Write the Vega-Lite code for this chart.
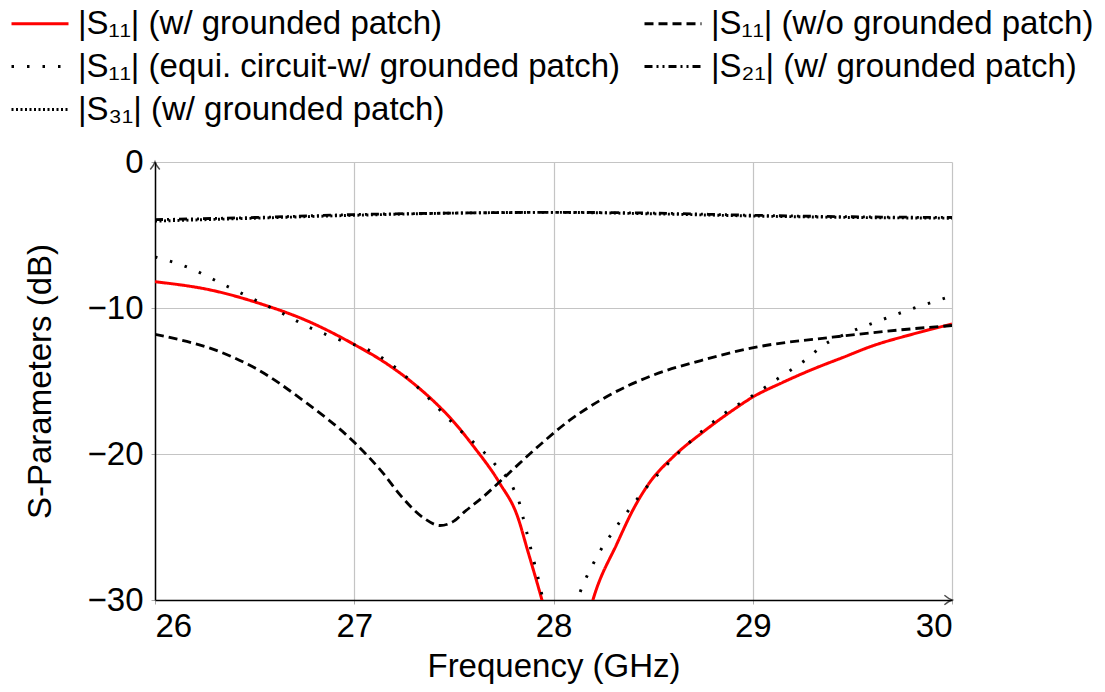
{
  "$schema": "https://vega.github.io/schema/vega-lite/v6.json",
  "width": 797,
  "height": 438,
  "autosize": {"type": "none"},
  "padding": {"left": 155, "top": 162, "right": 153, "bottom": 92},
  "background": "white",
  "config": {
    "font": "Liberation Sans",
    "view": {"stroke": null},
    "axis": {
      "labelFont": "Liberation Sans",
      "titleFont": "Liberation Sans",
      "labelFontSize": 33,
      "titleFontSize": 33,
      "titleFontWeight": "normal",
      "labelColor": "black",
      "titleColor": "black",
      "gridColor": "#c4c4c4",
      "gridWidth": 1.2,
      "gridOpacity": 1,
      "tickColor": "#aaaaaa",
      "tickSize": 4,
      "domainColor": "black",
      "domainWidth": 1.5
    },
    "legend": {
      "labelFont": "Liberation Sans",
      "labelFontSize": 33,
      "labelColor": "black",
      "labelLimit": 0
    }
  },
  "datasets": {
    "curves": [
      {"series": "|S₁₁| (w/ grounded patch)", "f": 26.0, "db": -8.2},
      {"series": "|S₁₁| (w/ grounded patch)", "f": 26.29, "db": -8.8},
      {"series": "|S₁₁| (w/ grounded patch)", "f": 26.55, "db": -9.8},
      {"series": "|S₁₁| (w/ grounded patch)", "f": 26.75, "db": -10.8},
      {"series": "|S₁₁| (w/ grounded patch)", "f": 27.0, "db": -12.5},
      {"series": "|S₁₁| (w/ grounded patch)", "f": 27.15, "db": -13.7},
      {"series": "|S₁₁| (w/ grounded patch)", "f": 27.3, "db": -15.2},
      {"series": "|S₁₁| (w/ grounded patch)", "f": 27.4, "db": -16.4},
      {"series": "|S₁₁| (w/ grounded patch)", "f": 27.48, "db": -17.5},
      {"series": "|S₁₁| (w/ grounded patch)", "f": 27.6, "db": -19.5},
      {"series": "|S₁₁| (w/ grounded patch)", "f": 27.73, "db": -22.0},
      {"series": "|S₁₁| (w/ grounded patch)", "f": 27.82, "db": -24.3},
      {"series": "|S₁₁| (w/ grounded patch)", "f": 27.87, "db": -26.6},
      {"series": "|S₁₁| (w/ grounded patch)", "f": 27.94, "db": -29.9},
      {"series": "|S₁₁| (w/ grounded patch)", "f": 28.0, "db": -33.0},
      {"series": "|S₁₁| (w/ grounded patch)", "f": 28.06, "db": -35.0},
      {"series": "|S₁₁| (w/ grounded patch)", "f": 28.14, "db": -33.0},
      {"series": "|S₁₁| (w/ grounded patch)", "f": 28.2, "db": -29.9},
      {"series": "|S₁₁| (w/ grounded patch)", "f": 28.32, "db": -26.1},
      {"series": "|S₁₁| (w/ grounded patch)", "f": 28.4, "db": -23.8},
      {"series": "|S₁₁| (w/ grounded patch)", "f": 28.48, "db": -22.0},
      {"series": "|S₁₁| (w/ grounded patch)", "f": 28.6, "db": -20.2},
      {"series": "|S₁₁| (w/ grounded patch)", "f": 28.75, "db": -18.5},
      {"series": "|S₁₁| (w/ grounded patch)", "f": 28.9, "db": -17.0},
      {"series": "|S₁₁| (w/ grounded patch)", "f": 29.0, "db": -16.1},
      {"series": "|S₁₁| (w/ grounded patch)", "f": 29.15, "db": -15.1},
      {"series": "|S₁₁| (w/ grounded patch)", "f": 29.3, "db": -14.2},
      {"series": "|S₁₁| (w/ grounded patch)", "f": 29.45, "db": -13.4},
      {"series": "|S₁₁| (w/ grounded patch)", "f": 29.6, "db": -12.6},
      {"series": "|S₁₁| (w/ grounded patch)", "f": 29.8, "db": -11.8},
      {"series": "|S₁₁| (w/ grounded patch)", "f": 30.0, "db": -11.1},

      {"series": "|S₁₁| (w/o grounded patch)", "f": 26.0, "db": -11.8},
      {"series": "|S₁₁| (w/o grounded patch)", "f": 26.38, "db": -13.3},
      {"series": "|S₁₁| (w/o grounded patch)", "f": 26.5, "db": -14.1},
      {"series": "|S₁₁| (w/o grounded patch)", "f": 26.75, "db": -16.4},
      {"series": "|S₁₁| (w/o grounded patch)", "f": 27.0, "db": -19.2},
      {"series": "|S₁₁| (w/o grounded patch)", "f": 27.15, "db": -21.4},
      {"series": "|S₁₁| (w/o grounded patch)", "f": 27.23, "db": -22.8},
      {"series": "|S₁₁| (w/o grounded patch)", "f": 27.35, "db": -24.4},
      {"series": "|S₁₁| (w/o grounded patch)", "f": 27.43, "db": -24.9},
      {"series": "|S₁₁| (w/o grounded patch)", "f": 27.5, "db": -24.6},
      {"series": "|S₁₁| (w/o grounded patch)", "f": 27.55, "db": -24.0},
      {"series": "|S₁₁| (w/o grounded patch)", "f": 27.65, "db": -22.9},
      {"series": "|S₁₁| (w/o grounded patch)", "f": 27.73, "db": -21.9},
      {"series": "|S₁₁| (w/o grounded patch)", "f": 27.93, "db": -19.4},
      {"series": "|S₁₁| (w/o grounded patch)", "f": 28.08, "db": -17.7},
      {"series": "|S₁₁| (w/o grounded patch)", "f": 28.25, "db": -16.2},
      {"series": "|S₁₁| (w/o grounded patch)", "f": 28.5, "db": -14.6},
      {"series": "|S₁₁| (w/o grounded patch)", "f": 28.74, "db": -13.6},
      {"series": "|S₁₁| (w/o grounded patch)", "f": 29.01, "db": -12.7},
      {"series": "|S₁₁| (w/o grounded patch)", "f": 29.4, "db": -12.0},
      {"series": "|S₁₁| (w/o grounded patch)", "f": 29.74, "db": -11.5},
      {"series": "|S₁₁| (w/o grounded patch)", "f": 30.0, "db": -11.2},

      {"series": "|S₁₁| (equi. circuit-w/ grounded patch)", "f": 26.0, "db": -6.5},
      {"series": "|S₁₁| (equi. circuit-w/ grounded patch)", "f": 26.18, "db": -7.3},
      {"series": "|S₁₁| (equi. circuit-w/ grounded patch)", "f": 26.33, "db": -8.3},
      {"series": "|S₁₁| (equi. circuit-w/ grounded patch)", "f": 26.48, "db": -9.3},
      {"series": "|S₁₁| (equi. circuit-w/ grounded patch)", "f": 26.63, "db": -10.3},
      {"series": "|S₁₁| (equi. circuit-w/ grounded patch)", "f": 26.77, "db": -11.3},
      {"series": "|S₁₁| (equi. circuit-w/ grounded patch)", "f": 26.93, "db": -12.2},
      {"series": "|S₁₁| (equi. circuit-w/ grounded patch)", "f": 27.09, "db": -13.0},
      {"series": "|S₁₁| (equi. circuit-w/ grounded patch)", "f": 27.16, "db": -13.6},
      {"series": "|S₁₁| (equi. circuit-w/ grounded patch)", "f": 27.3, "db": -15.2},
      {"series": "|S₁₁| (equi. circuit-w/ grounded patch)", "f": 27.51, "db": -18.1},
      {"series": "|S₁₁| (equi. circuit-w/ grounded patch)", "f": 27.7, "db": -20.6},
      {"series": "|S₁₁| (equi. circuit-w/ grounded patch)", "f": 27.8, "db": -22.4},
      {"series": "|S₁₁| (equi. circuit-w/ grounded patch)", "f": 27.83, "db": -23.4},
      {"series": "|S₁₁| (equi. circuit-w/ grounded patch)", "f": 27.85, "db": -24.5},
      {"series": "|S₁₁| (equi. circuit-w/ grounded patch)", "f": 27.87, "db": -25.6},
      {"series": "|S₁₁| (equi. circuit-w/ grounded patch)", "f": 27.89, "db": -26.7},
      {"series": "|S₁₁| (equi. circuit-w/ grounded patch)", "f": 27.91, "db": -27.8},
      {"series": "|S₁₁| (equi. circuit-w/ grounded patch)", "f": 27.93, "db": -28.9},
      {"series": "|S₁₁| (equi. circuit-w/ grounded patch)", "f": 27.97, "db": -31.5},
      {"series": "|S₁₁| (equi. circuit-w/ grounded patch)", "f": 28.03, "db": -34.0},
      {"series": "|S₁₁| (equi. circuit-w/ grounded patch)", "f": 28.09, "db": -31.5},
      {"series": "|S₁₁| (equi. circuit-w/ grounded patch)", "f": 28.13, "db": -29.6},
      {"series": "|S₁₁| (equi. circuit-w/ grounded patch)", "f": 28.16, "db": -28.6},
      {"series": "|S₁₁| (equi. circuit-w/ grounded patch)", "f": 28.2, "db": -27.5},
      {"series": "|S₁₁| (equi. circuit-w/ grounded patch)", "f": 28.24, "db": -26.5},
      {"series": "|S₁₁| (equi. circuit-w/ grounded patch)", "f": 28.29, "db": -25.5},
      {"series": "|S₁₁| (equi. circuit-w/ grounded patch)", "f": 28.33, "db": -24.7},
      {"series": "|S₁₁| (equi. circuit-w/ grounded patch)", "f": 28.38, "db": -23.8},
      {"series": "|S₁₁| (equi. circuit-w/ grounded patch)", "f": 28.43, "db": -22.9},
      {"series": "|S₁₁| (equi. circuit-w/ grounded patch)", "f": 28.6, "db": -20.3},
      {"series": "|S₁₁| (equi. circuit-w/ grounded patch)", "f": 28.85, "db": -17.3},
      {"series": "|S₁₁| (equi. circuit-w/ grounded patch)", "f": 29.0, "db": -16.0},
      {"series": "|S₁₁| (equi. circuit-w/ grounded patch)", "f": 29.13, "db": -14.8},
      {"series": "|S₁₁| (equi. circuit-w/ grounded patch)", "f": 29.27, "db": -13.5},
      {"series": "|S₁₁| (equi. circuit-w/ grounded patch)", "f": 29.35, "db": -12.6},
      {"series": "|S₁₁| (equi. circuit-w/ grounded patch)", "f": 29.48, "db": -11.7},
      {"series": "|S₁₁| (equi. circuit-w/ grounded patch)", "f": 29.63, "db": -10.9},
      {"series": "|S₁₁| (equi. circuit-w/ grounded patch)", "f": 29.79, "db": -10.1},
      {"series": "|S₁₁| (equi. circuit-w/ grounded patch)", "f": 29.97, "db": -9.3},

      {"series": "|S₂₁| (w/ grounded patch)", "f": 26.0, "db": -3.95},
      {"series": "|S₂₁| (w/ grounded patch)", "f": 26.5, "db": -3.8},
      {"series": "|S₂₁| (w/ grounded patch)", "f": 27.0, "db": -3.6},
      {"series": "|S₂₁| (w/ grounded patch)", "f": 27.5, "db": -3.5},
      {"series": "|S₂₁| (w/ grounded patch)", "f": 28.0, "db": -3.45},
      {"series": "|S₂₁| (w/ grounded patch)", "f": 28.5, "db": -3.5},
      {"series": "|S₂₁| (w/ grounded patch)", "f": 29.0, "db": -3.65},
      {"series": "|S₂₁| (w/ grounded patch)", "f": 29.5, "db": -3.75},
      {"series": "|S₂₁| (w/ grounded patch)", "f": 30.0, "db": -3.8},

      {"series": "|S₃₁| (w/ grounded patch)", "f": 26.0, "db": -4.05},
      {"series": "|S₃₁| (w/ grounded patch)", "f": 26.5, "db": -3.85},
      {"series": "|S₃₁| (w/ grounded patch)", "f": 27.0, "db": -3.65},
      {"series": "|S₃₁| (w/ grounded patch)", "f": 27.5, "db": -3.5},
      {"series": "|S₃₁| (w/ grounded patch)", "f": 28.0, "db": -3.45},
      {"series": "|S₃₁| (w/ grounded patch)", "f": 28.5, "db": -3.55},
      {"series": "|S₃₁| (w/ grounded patch)", "f": 29.0, "db": -3.7},
      {"series": "|S₃₁| (w/ grounded patch)", "f": 29.5, "db": -3.8},
      {"series": "|S₃₁| (w/ grounded patch)", "f": 30.0, "db": -3.85}
    ],
    "arrows": [
      {"f": 30.0, "db": -30.0, "dir": "right"},
      {"f": 26.0, "db": 0.0, "dir": "up"}
    ]
  },
  "layer": [
    {
      "data": {"name": "curves"},
      "mark": {"type": "line", "clip": true, "interpolate": "monotone"},
      "encoding": {
        "x": {
          "field": "f", "type": "quantitative",
          "scale": {"domain": [26, 30], "nice": false, "zero": false},
          "axis": {
            "title": "Frequency (GHz)",
            "values": [26, 27, 28, 29, 30],
            "format": "d",
            "labelPadding": 6,
            "titlePadding": 7,
            "grid": true
          }
        },
        "y": {
          "field": "db", "type": "quantitative",
          "scale": {"domain": [-30, 0], "nice": false, "zero": false},
          "axis": {
            "title": "S-Parameters (dB)",
            "values": [-30, -20, -10, 0],
            "format": "d",
            "labelPadding": 8,
            "titlePadding": 30,
            "grid": true
          }
        },
        "color": {
          "field": "series", "type": "nominal",
          "scale": {
            "domain": [
              "|S₁₁| (w/ grounded patch)",
              "|S₁₁| (equi. circuit-w/ grounded patch)",
              "|S₃₁| (w/ grounded patch)",
              "|S₁₁| (w/o grounded patch)",
              "|S₂₁| (w/ grounded patch)"
            ],
            "range": ["#ff0000", "#000000", "#000000", "#000000", "#000000"]
          },
          "legend": {
            "title": null,
            "orient": "none",
            "legendX": -145,
            "legendY": -155,
            "columns": 2,
            "columnPadding": 18,
            "rowPadding": 9,
            "symbolType": "M -1.9 0 H 1.9",
            "symbolSize": 900,
            "symbolStrokeWidth": 2.5,
            "symbolOffset": 13.5,
            "labelOffset": 21.5
          }
        },
        "strokeDash": {
          "field": "series", "type": "nominal",
          "scale": {
            "domain": [
              "|S₁₁| (w/ grounded patch)",
              "|S₁₁| (equi. circuit-w/ grounded patch)",
              "|S₃₁| (w/ grounded patch)",
              "|S₁₁| (w/o grounded patch)",
              "|S₂₁| (w/ grounded patch)"
            ],
            "range": [[1, 0], [2.5, 13], [2, 2.5], [9, 5], [8, 4, 2, 4, 2, 4]]
          },
          "legend": {
            "title": null,
            "orient": "none",
            "legendX": -145,
            "legendY": -155,
            "columns": 2,
            "columnPadding": 18,
            "rowPadding": 9,
            "symbolType": "M -1.9 0 H 1.9",
            "symbolSize": 900,
            "symbolStrokeWidth": 2.5,
            "symbolOffset": 13.5,
            "labelOffset": 21.5
          }
        },
        "strokeWidth": {
          "field": "series", "type": "nominal",
          "scale": {
            "domain": [
              "|S₁₁| (w/ grounded patch)",
              "|S₁₁| (equi. circuit-w/ grounded patch)",
              "|S₃₁| (w/ grounded patch)",
              "|S₁₁| (w/o grounded patch)",
              "|S₂₁| (w/ grounded patch)"
            ],
            "range": [3, 2.8, 2.2, 2.6, 2.4]
          },
          "legend": null
        }
      }
    },
    {
      "data": {"name": "arrows"},
      "transform": [{"filter": "datum.dir == 'right'"}],
      "mark": {
        "type": "point",
        "shape": "M -1.6 -1 Q -0.7 -0.25 0 0 Q -0.7 0.25 -1.6 1",
        "filled": false,
        "stroke": "black",
        "strokeWidth": 1.5,
        "size": 90,
        "clip": false
      },
      "encoding": {
        "x": {"field": "f", "type": "quantitative"},
        "y": {"field": "db", "type": "quantitative"}
      }
    },
    {
      "data": {"name": "arrows"},
      "transform": [{"filter": "datum.dir == 'up'"}],
      "mark": {
        "type": "point",
        "shape": "M -1 1.6 Q -0.25 0.7 0 0 Q 0.25 0.7 1 1.6",
        "filled": false,
        "stroke": "black",
        "strokeWidth": 1.5,
        "size": 90,
        "clip": false
      },
      "encoding": {
        "x": {"field": "f", "type": "quantitative"},
        "y": {"field": "db", "type": "quantitative"}
      }
    }
  ]
}
